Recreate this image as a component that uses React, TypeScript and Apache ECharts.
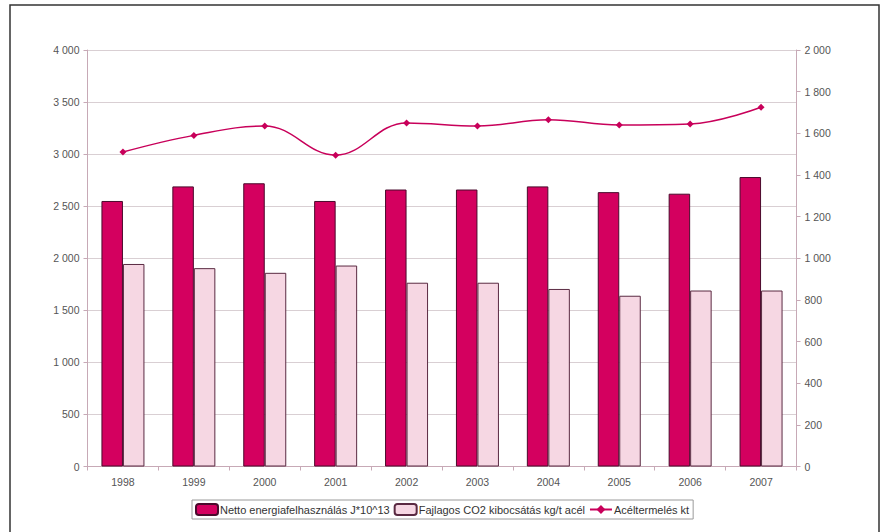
import React, { useEffect, useRef } from "react";
import * as echarts from "echarts";

const years = ["1998", "1999", "2000", "2001", "2002", "2003", "2004", "2005", "2006", "2007"];
const energyUse = [2550, 2690, 2720, 2550, 2660, 2660, 2690, 2635, 2620, 2780];
const co2Specific = [1945, 1905, 1860, 1930, 1765, 1765, 1705, 1640, 1690, 1690];
const steelProduction = [1510, 1590, 1635, 1495, 1650, 1635, 1665, 1640, 1645, 1725];

const seriesNames = [
  "Netto energiafelhasználás J*10^13",
  "Fajlagos CO2 kibocsátás kg/t acél",
  "Acéltermelés kt",
];

const fmt = (v: number) => {
  const s = String(Math.round(v));
  return s.replace(/\B(?=(\d{3})+(?!\d))/g, " ");
};

export default function App() {
  const ref = useRef<HTMLDivElement>(null);
  useEffect(() => {
    if (!ref.current) return;
    const chart = echarts.init(ref.current, undefined, { renderer: "svg" });
    const axisColor = "#c7a9b6";
    const labelStyle = { color: "#555", fontSize: 10.5, fontFamily: "Liberation Sans, Arial, sans-serif" };
    chart.setOption({
      animation: false,
      backgroundColor: "#ffffff",
      textStyle: { fontFamily: "Liberation Sans, Arial, sans-serif" },
      graphic: [
        {
          type: "rect",
          shape: { x: 10, y: 5, width: 869, height: 540 },
          style: { fill: "none", stroke: "#333", lineWidth: 1.5 },
          silent: true,
        },
      ],
      grid: { left: 87.5, right: 85.5, top: 50, bottom: 65.5, containLabel: false },
      legend: {
        left: 192,
        top: 500,
        orient: "horizontal",
        itemWidth: 22,
        itemHeight: 11,
        itemGap: 4,
        padding: [3, 4, 3, 3],
        borderColor: "#9a9a9a",
        borderWidth: 1,
        textStyle: { color: "#333", fontSize: 11, padding: [0, 0, 0, -3] },
        data: [
          { name: seriesNames[0] },
          { name: seriesNames[1] },
          { name: seriesNames[2] },
        ],
      },
      xAxis: {
        type: "category",
        data: years,
        boundaryGap: true,
        axisLine: { lineStyle: { color: axisColor, width: 1 } },
        axisTick: { show: true, alignWithLabel: false, length: 4, lineStyle: { color: axisColor } },
        axisLabel: { ...labelStyle, margin: 10 },
      },
      yAxis: [
        {
          type: "value",
          min: 0,
          max: 4000,
          interval: 500,
          position: "left",
          axisLine: { show: true, lineStyle: { color: axisColor, width: 1 } },
          axisTick: { show: true, length: 4, lineStyle: { color: axisColor } },
          axisLabel: { ...labelStyle, margin: 8, formatter: fmt },
          splitLine: { show: true, lineStyle: { color: "#d9cfd3", width: 1 } },
        },
        {
          type: "value",
          min: 0,
          max: 2000,
          interval: 200,
          position: "right",
          axisLine: { show: true, lineStyle: { color: axisColor, width: 1 } },
          axisTick: { show: true, length: 4, lineStyle: { color: axisColor } },
          axisLabel: { ...labelStyle, margin: 8, formatter: fmt },
          splitLine: { show: false },
        },
      ],
      series: [
        {
          name: seriesNames[0],
          type: "bar",
          data: energyUse,
          yAxisIndex: 0,
          barWidth: 21.5,
          barGap: "0%",
          itemStyle: { color: "#d4005f", borderColor: "#4a0a2c", borderWidth: 1 },
        },
        {
          name: seriesNames[1],
          type: "bar",
          data: co2Specific,
          yAxisIndex: 0,
          barWidth: 21.5,
          barGap: "0%",
          itemStyle: { color: "#f6d7e3", borderColor: "#5a2a42", borderWidth: 1 },
        },
        {
          name: seriesNames[2],
          type: "line",
          data: steelProduction,
          yAxisIndex: 1,
          smooth: 0.4,
          symbol: "diamond",
          symbolSize: 7,
          lineStyle: { color: "#c8005a", width: 1.5 },
          itemStyle: { color: "#c8005a" },
        },
      ],
    });
    return () => chart.dispose();
  }, []);
  return (
    <div
      ref={ref}
      style={{ position: "fixed", left: 0, top: 0, width: 882, height: 532 }}
    />
  );
}
